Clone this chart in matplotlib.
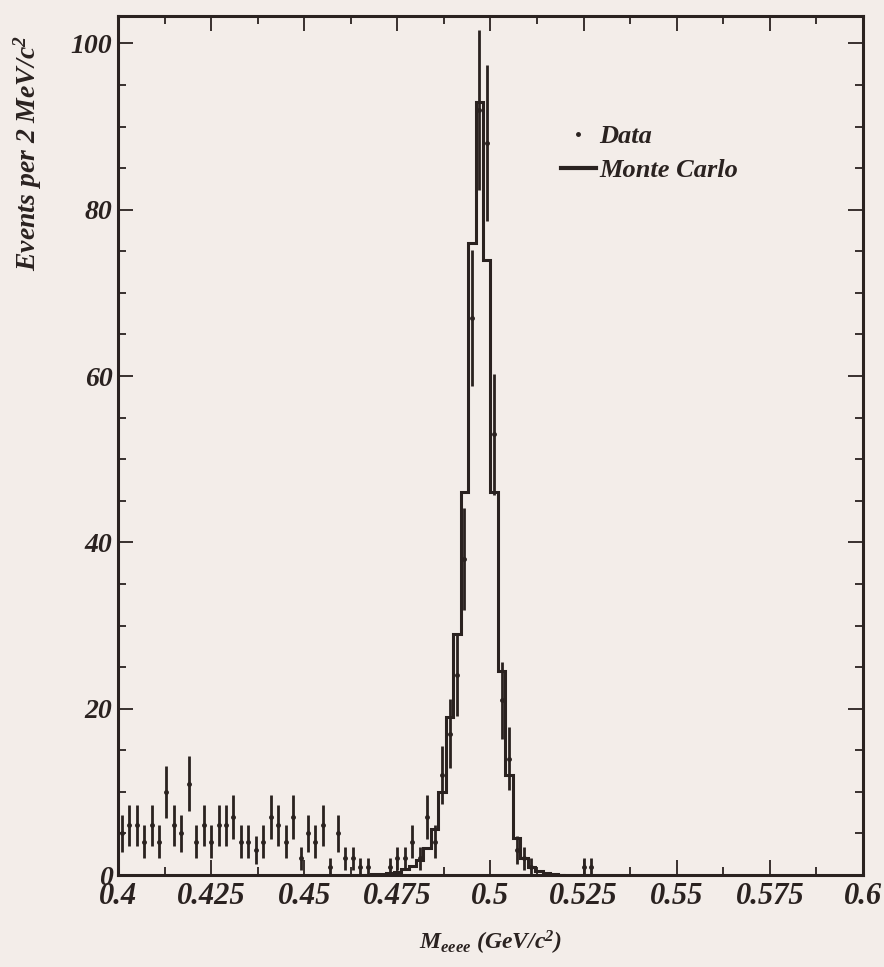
import numpy as np
import matplotlib
matplotlib.use("Agg")
import matplotlib.pyplot as plt
from matplotlib.ticker import MultipleLocator, FixedLocator, FixedFormatter
from matplotlib.lines import Line2D

# Histogram binning (GeV/c^2)
bin_width = 0.002
data_low = 0.400
mc_low = 0.466

# Observed events per 2 MeV/c^2 bin, starting at 0.400
data_counts = [5, 6, 6, 4, 6, 4, 10, 6, 5, 11, 4, 6, 4, 6, 6, 7,
               4, 4, 3, 4, 7, 6, 4, 7, 2, 5, 4, 6, 1, 5, 2, 2, 1,
               1, 0, 0,
               1, 2, 2, 4, 2, 7, 4,
               12, 17, 24, 38, 67, 92, 88,
               53, 21, 14, 3, 2, 1,
               0, 0, 0, 0, 0, 0,
               1, 1]

# Simulated signal shape per bin, starting at 0.466
mc_counts = [0.05, 0.1, 0.15, 0.25, 0.4, 0.7, 1.1, 1.8, 3.2, 5.5,
             10, 19, 29, 46, 76, 93, 74, 46, 24.5, 12,
             4.5, 2, 1, 0.5, 0.25, 0.1, 0.05]

x_ticks = [0.4, 0.425, 0.45, 0.475, 0.5, 0.525, 0.55, 0.575, 0.6]
x_tick_labels = ["0.4", "0.425", "0.45", "0.475", "0.5", "0.525", "0.55", "0.575", "0.6"]
y_ticks = [0, 20, 40, 60, 80, 100]
y_tick_labels = ["0", "20", "40", "60", "80", "100"]

ink = "#2a2220"
paper = "#f3ede9"

plt.rcParams["font.family"] = ["Liberation Serif", "DejaVu Serif"]
plt.rcParams["font.weight"] = "bold"
plt.rcParams["font.style"] = "italic"
plt.rcParams["axes.labelweight"] = "bold"
plt.rcParams["mathtext.fontset"] = "custom"
plt.rcParams["mathtext.rm"] = "Liberation Serif:bold:italic"
plt.rcParams["mathtext.it"] = "Liberation Serif:bold:italic"
plt.rcParams["mathtext.bf"] = "Liberation Serif:bold:italic"
plt.rcParams["text.color"] = ink
plt.rcParams["axes.labelcolor"] = ink
plt.rcParams["xtick.color"] = ink
plt.rcParams["ytick.color"] = ink

fig = plt.figure(figsize=(8.84, 9.67), dpi=100, facecolor=paper)
ax = fig.add_axes([0.1335, 0.0951, 0.8427, 0.8884], facecolor=paper)

# Monte Carlo histogram
data_counts = np.asarray(data_counts, dtype=float)
mc_counts = np.asarray(mc_counts, dtype=float)
mc_edges = mc_low + bin_width * np.arange(len(mc_counts) + 1)
ax.stairs(mc_counts, mc_edges, color=ink, lw=2.2, baseline=0)

# Data points with Poisson errors (empty bins omitted)
centers = data_low + bin_width * (np.arange(len(data_counts)) + 0.5)
mask = data_counts > 0
ax.errorbar(centers[mask], data_counts[mask], yerr=np.sqrt(data_counts[mask]),
            fmt="o", ms=2.5, color=ink, ecolor=ink, elinewidth=2.0, capsize=0)

ax.set_xlim(0.4, 0.6)
ax.set_ylim(0, 103.3)

ax.xaxis.set_major_locator(FixedLocator(x_ticks))
ax.xaxis.set_major_formatter(FixedFormatter(x_tick_labels))
ax.xaxis.set_minor_locator(MultipleLocator(0.0125))
ax.yaxis.set_major_locator(FixedLocator(y_ticks))
ax.yaxis.set_major_formatter(FixedFormatter(y_tick_labels))
ax.yaxis.set_minor_locator(MultipleLocator(5))

ax.tick_params(which="both", direction="in", top=True, right=True, width=1.3, color=ink)
ax.tick_params(which="major", length=11)
ax.tick_params(which="minor", length=5.5)
ax.tick_params(axis="x", labelsize=22, pad=5)
ax.tick_params(axis="y", labelsize=20, pad=4)

for s in ax.spines.values():
    s.set_linewidth(2.2)
    s.set_color(ink)

ax.set_ylabel("Events per 2 MeV/c$^2$", fontsize=20, fontweight="bold")
ax.yaxis.set_label_coords(-0.10, 0.84)
ax.set_xlabel("M$_{eeee}$ (GeV/c$^2$)", fontsize=17, fontweight="bold")
ax.xaxis.set_label_coords(0.5, -0.063)

handles = [Line2D([], [], marker="o", ms=2.5, ls="none", color=ink),
           Line2D([], [], lw=3, color=ink)]
ax.legend(handles, ["Data", "Monte Carlo"], loc="upper left",
          bbox_to_anchor=(0.58, 0.886), frameon=False, handlelength=1.35,
          handletextpad=0.1, labelspacing=0.4, borderaxespad=0,
          prop={"family": "Liberation Serif", "weight": "bold", "style": "italic", "size": 19})

fig.savefig("out.png", dpi=100, facecolor=paper)
